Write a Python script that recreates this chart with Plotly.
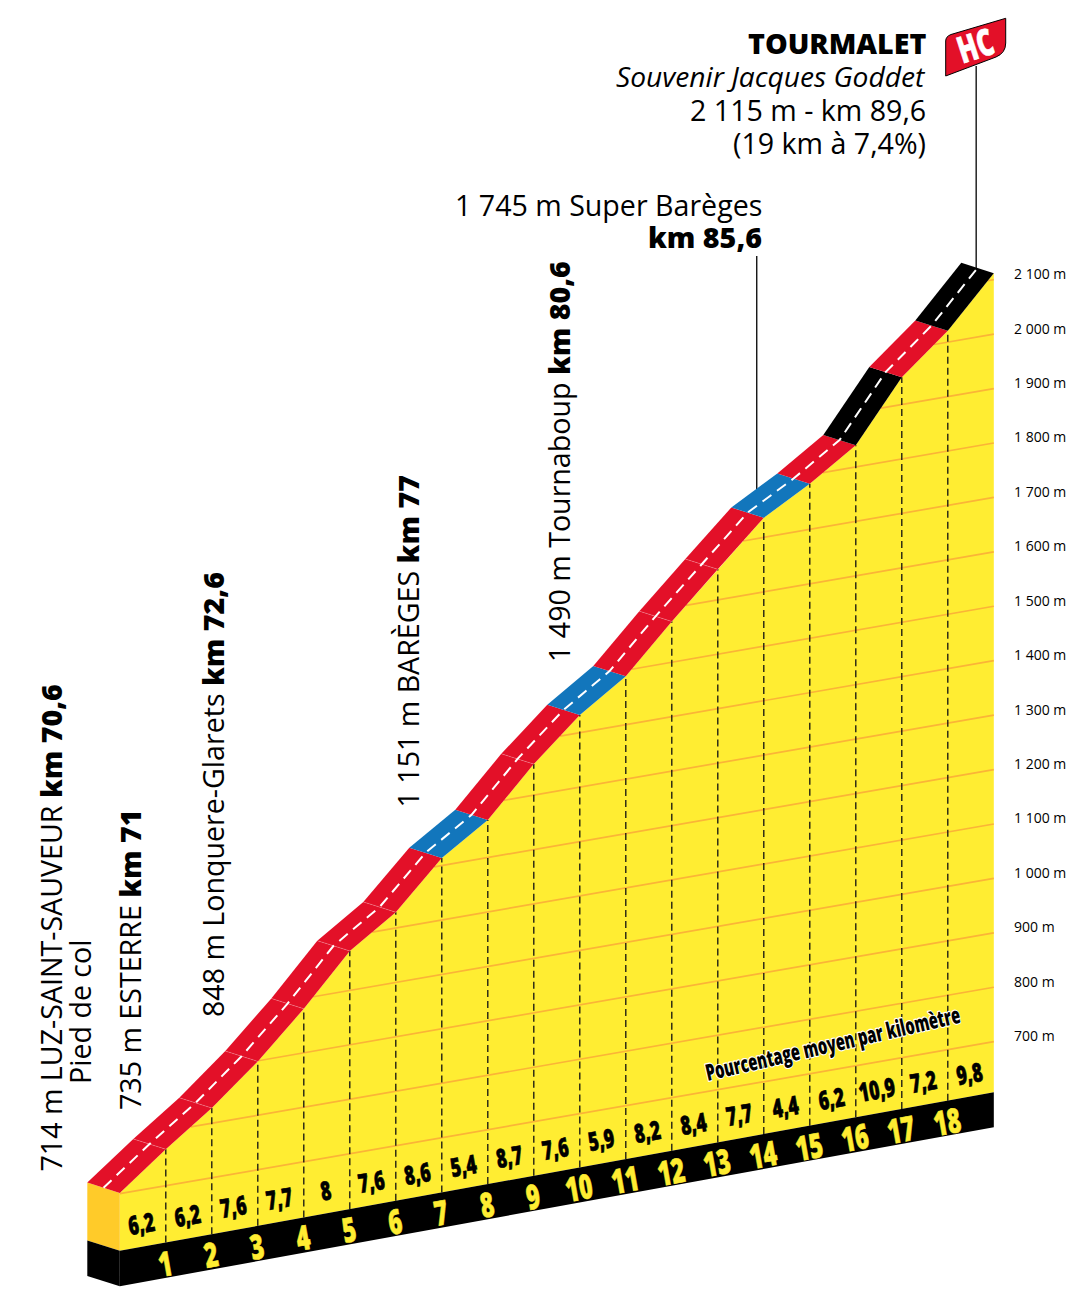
import numpy as np
import plotly.graph_objects as go

# ---------- data ----------
KM = list(range(20))
ALTITUDE = [701.5, 767, 828, 899, 981, 1072.5, 1129, 1214, 1269, 1357, 1432.5,
            1489, 1575, 1656, 1736, 1784, 1840, 1950, 2021, 2112]
GRADIENT = ["6,2", "6,2", "7,6", "7,7", "8", "7,6", "8,6", "5,4", "8,7", "7,6",
            "5,9", "8,2", "8,4", "7,7", "4,4", "6,2", "10,9", "7,2", "9,8"]
SEGMENT_CLASS = ["r", "r", "r", "r", "r", "r", "r", "b", "r", "r", "b", "r", "r",
                 "r", "b", "r", "k", "r", "k"]
KM_MARKS = list(range(1, 19))
GRID_LEVELS = list(range(700, 2101, 100))
GRID_LABELS = ["700 m", "800 m", "900 m", "1 000 m", "1 100 m", "1 200 m", "1 300 m",
               "1 400 m", "1 500 m", "1 600 m", "1 700 m", "1 800 m", "1 900 m",
               "2 000 m", "2 100 m"]
GROUND_ENDS_KM = [0, 19]
GROUND_ALT = [595, 607]
BASE_ALT = [530, 543]
SUPER_BAREGES_KM = 14.2
SUMMIT_KM = 18.97

# ---------- scale / style ----------
W, H = 1088, 1300
PX_PER_KM = 46.0
PX_PER_M = 0.5443
TILT = 8.0 / PX_PER_M          # metres of apparent rise per km
X0 = 119.8
Y700 = 1193.7
DEPTH_X = -32.5 / PX_PER_KM
DEPTH_Y = 10.3 / PX_PER_M

YELLOW = "#FFED32"
SIDE = "#FFCB29"
GRID = "#FBB437"
COLORS = {"r": "#E31028", "b": "#1276BC", "k": "#000000"}
SANS = "Open Sans"
HEAVY = 800   # weight that marks the condensed labels (squeezed after drawing)
SQUEEZE = 0.68
CAPTION = "Pourcentage moyen par kilomètre"
BIG = 28.6


def heavy(text):
    return f'<span style="font-weight:800">{text}</span>'


def Y(km, alt):
    return np.asarray(alt, dtype=float) + TILT * np.asarray(km, dtype=float)


def xpaper(px):
    return px / W


def ypaper(py):
    return 1 - py / H


def ypx_to_data(py):
    return 700 + (Y700 - py) / PX_PER_M


km = np.array(KM, dtype=float)
alt = np.array(ALTITUDE, dtype=float)
front = Y(km, alt)


def ground(k):
    return np.interp(k, GROUND_ENDS_KM, GROUND_ALT)


def base(k):
    return np.interp(k, GROUND_ENDS_KM, BASE_ALT)


fig = go.Figure()


def poly(xs, ys, color):
    fig.add_trace(go.Scatter(x=list(xs), y=list(ys), mode="lines", fill="toself", fillcolor=color,
                             line=dict(width=0, color=color), hoverinfo="skip"))


def line(xs, ys, color, width, dash="solid"):
    fig.add_trace(go.Scatter(x=list(xs), y=list(ys), mode="lines",
                             line=dict(color=color, width=width, dash=dash), hoverinfo="skip"))


# yellow face
poly(list(km) + [19, 0], list(front) + [Y(19, ground(19)), Y(0, ground(0))], YELLOW)

# altitude grid
for lev in GRID_LEVELS:
    start = float(np.interp(lev, ALTITUDE, KM))
    line([start, 19], [Y(start, lev), Y(19, lev)], GRID, 1.7)

# km dashed verticals
for k in KM_MARKS:
    line([k, k], [Y(k, ground(k)), Y(k, ALTITUDE[k])], "#111111", 1.3, "7px,4px")

# leader lines
k = SUPER_BAREGES_KM
sb_x = k + DEPTH_X / 2
sb_y = Y(k, np.interp(k, KM, ALTITUDE)) + DEPTH_Y / 2
line([sb_x, sb_x], [sb_y, ypx_to_data(256)], "#000000", 1.3)
k = SUMMIT_KM
s_x = k + DEPTH_X / 2
s_y = Y(k, np.interp(k, KM, ALTITUDE)) + DEPTH_Y / 2
line([s_x, s_x], [s_y, ypx_to_data(66)], "#000000", 1.3)

# left side block
poly([DEPTH_X, 0, 0, DEPTH_X],
     [front[0] + DEPTH_Y, front[0], Y(0, ground(0)), Y(0, ground(0)) + DEPTH_Y], SIDE)
poly([DEPTH_X, 0, 0, DEPTH_X],
     [Y(0, ground(0)) + DEPTH_Y, Y(0, ground(0)), Y(0, base(0)), Y(0, base(0)) + DEPTH_Y], "#000000")
# black base
poly([0, 19, 19, 0],
     [Y(0, ground(0)), Y(19, ground(19)), Y(19, base(19)), Y(0, base(0))], "#000000")

# road segments
for i, cls in enumerate(SEGMENT_CLASS):
    poly([km[i], km[i + 1], km[i + 1] + DEPTH_X, km[i] + DEPTH_X],
         [front[i], front[i + 1], front[i + 1] + DEPTH_Y, front[i] + DEPTH_Y], COLORS[cls])
for i in range(1, len(SEGMENT_CLASS)):
    if SEGMENT_CLASS[i] == "r" and SEGMENT_CLASS[i - 1] == "r":
        line([km[i], km[i] + DEPTH_X], [front[i], front[i] + DEPTH_Y], "rgba(255,255,255,0.35)", 0.6)
# centre dashes
line(km + DEPTH_X / 2, front + DEPTH_Y / 2, "#FFFFFF", 2, "11px,7px")

ann = []


def label(text, px, py, size, color="#000000", angle=0, xa="center", ya="middle", **font):
    ann.append(dict(text=text, x=xpaper(px), y=ypaper(py), xref="paper", yref="paper", showarrow=False,
                    xanchor=xa, yanchor=ya, textangle=angle,
                    font=dict(family=SANS, size=size, color=color, **font)))


# gradient labels & km numbers (placed through the data scales)
for i, g in enumerate(GRADIENT):
    kk = i + 0.47
    ann.append(dict(text=g, x=kk, y=float(Y(kk, ground(kk))), xref="x", yref="y",
                    yshift=24, showarrow=False, textangle=-10,
                    font=dict(family=SANS, size=26, weight=HEAVY, color="#000000")))
for k in KM_MARKS:
    ann.append(dict(text=str(k), x=k - 0.02, y=float(Y(k, ground(k))), xref="x", yref="y",
                    yshift=-20, showarrow=False, textangle=-10,
                    font=dict(family=SANS, size=34, weight=HEAVY, color=YELLOW)))

# altitude tick labels
for lev, t in zip(GRID_LEVELS, GRID_LABELS):
    ann.append(dict(text=t, x=19 + 18.5 / PX_PER_KM, y=float(Y(19, lev)), xref="x", yref="y",
                    xanchor="left", yanchor="middle", yshift=6, showarrow=False,
                    font=dict(family=SANS, size=14, color="#000000")))

# vertical place labels
label(f"714 m LUZ-SAINT-SAUVEUR {heavy('km 70,6')}", 50, 1174, BIG, angle=-90, ya="bottom")
label("Pied de col", 79.5, 1086, BIG, angle=-90, ya="bottom")
label(f"735 m ESTERRE {heavy('km 71')}", 129.5, 1112, BIG, angle=-90, ya="bottom")
label(f"848 m Lonquere-Glarets {heavy('km 72,6')}", 212.5, 1019, BIG, angle=-90, ya="bottom")
label(f"1 151 m BARÈGES {heavy('km 77')}", 406.5, 810, BIG, angle=-90, ya="bottom")
label(f"1 490 m Tournaboup {heavy('km 80,6')}", 558.5, 664, BIG, angle=-90, ya="bottom")

# top texts
label(heavy("TOURMALET"), 928, 42.5, 28.6, xa="right")
label("<i>Souvenir Jacques Goddet</i>", 928, 75.8, 28.2, xa="right")
label("2 115 m - km 89,6", 928, 109, BIG, xa="right")
label("(19 km à 7,4%)", 928, 142, BIG, xa="right")
label("1 745 m Super Barèges", 764, 204, BIG, xa="right")
label(heavy("km 85,6"), 764, 237, BIG, xa="right")

# caption
label(CAPTION, 832, 1043, 23, angle=-13, weight=HEAVY)
# flag text
label("HC", 975, 45, 37, color="#FFFFFF", angle=-18, weight=HEAVY)


def flag_path():
    def p(x, y):
        return f"{xpaper(x):.5f} {ypaper(y):.5f}"
    return (f"M {p(945.7, 76)} L {p(945.7, 41)} Q {p(945.7, 36.5)} {p(951, 34.5)} "
            f"L {p(1005.7, 18.3)} L {p(1005.7, 43)} Q {p(1005.7, 53)} {p(996, 57)} Z")


fig.update_layout(
    width=W, height=H, margin=dict(l=0, r=0, t=0, b=0),
    paper_bgcolor="#FFFFFF", plot_bgcolor="#FFFFFF", showlegend=False, hovermode=False,
    xaxis=dict(visible=False, range=[-X0 / PX_PER_KM, (W - X0) / PX_PER_KM], fixedrange=True),
    yaxis=dict(visible=False, range=[ypx_to_data(H), ypx_to_data(0)], fixedrange=True),
    annotations=ann,
    shapes=[dict(type="path", xref="paper", yref="paper", path=flag_path(),
                 fillcolor="#E31028", line=dict(color="#000000", width=1), layer="below")],
)

squeeze_js = """
document.body.style.margin='0';
document.querySelectorAll('.annotation-text').forEach(function(t){
  if (String(t.style.fontWeight) === '%d') {
    var caption = t.textContent.indexOf('Pourcentage') === 0;
    t.setAttribute('textLength', t.getComputedTextLength() * (caption ? 0.64 : %f));
    t.setAttribute('lengthAdjust', 'spacingAndGlyphs');
    if (caption) {
      t.style.stroke = '#FFFFFF';
      t.style.strokeWidth = '2.4px';
      t.style.paintOrder = 'stroke';
      t.style.strokeLinejoin = 'round';
    } else {
      t.style.stroke = t.style.fill;
      t.style.strokeWidth = '0.6px';
    }
  }
});
""" % (HEAVY, SQUEEZE)

fig.write_html("out.html", config=dict(displayModeBar=False), post_script=squeeze_js)
